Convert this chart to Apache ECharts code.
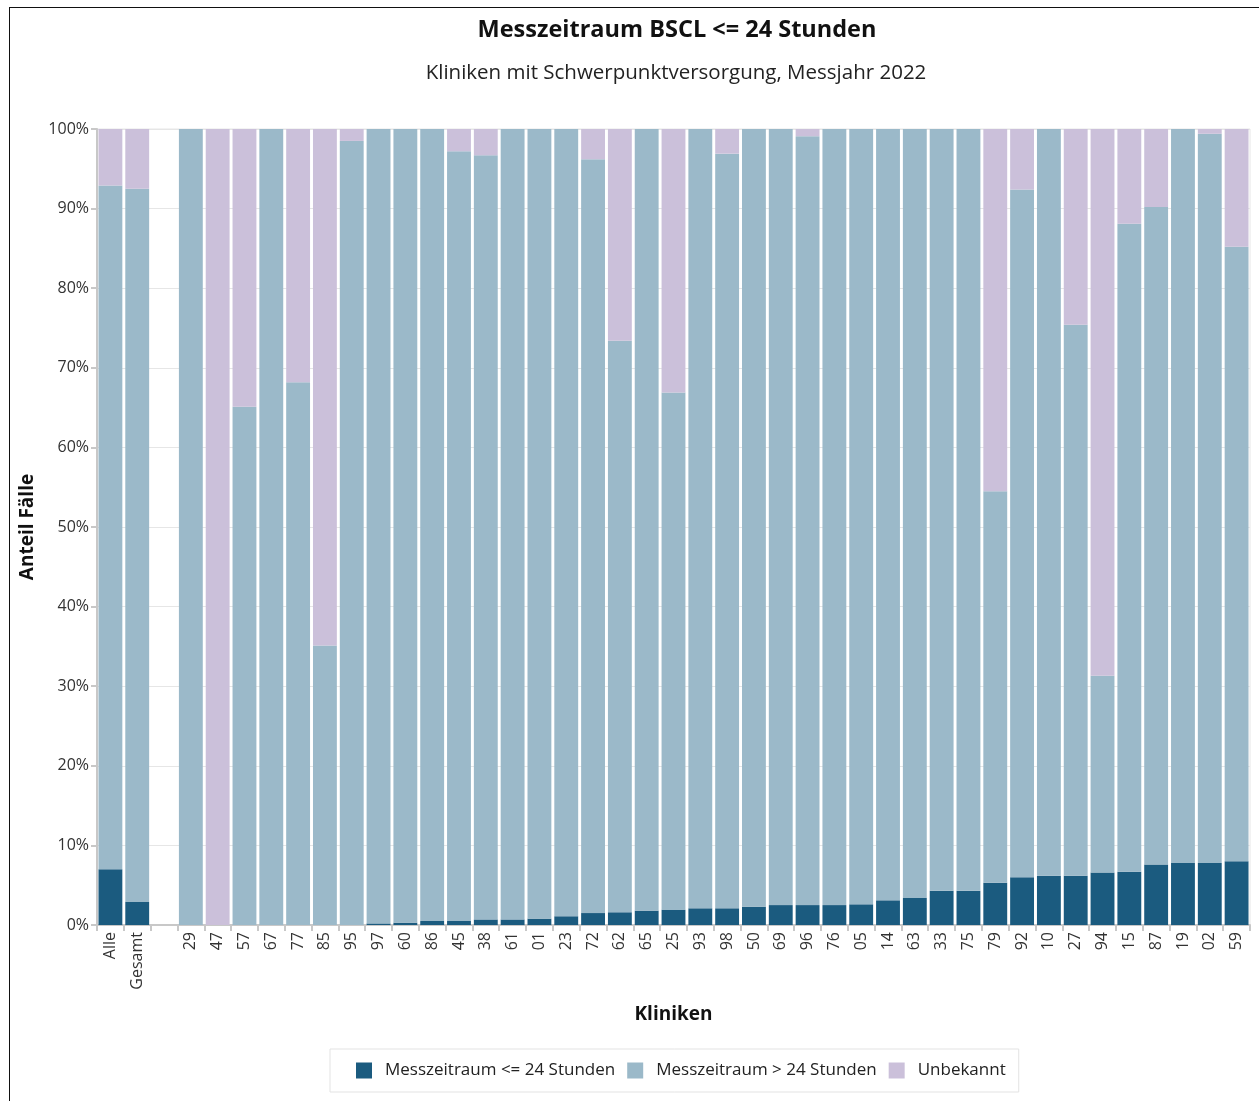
<!DOCTYPE html>
<html>
<head>
<meta charset="utf-8">
<title>Messzeitraum BSCL</title>
<script src="https://cdn.jsdelivr.net/npm/echarts@6/dist/echarts.min.js"></script>
<style>
    html, body { margin: 0; padding: 0; background: #fff; }
    #frame { position: absolute; left: 9px; top: 7px; width: 1260px; height: 1110px; border-left: 1.5px solid #111; border-top: 1.5px solid #111; }
    #chart { position: absolute; left: 0; top: 0; width: 1259px; height: 1101px; }
</style>
</head>
<body>
<div id="frame"></div>
<div id="chart"></div>
<script>
// Kliniken (leere Kategorie = Abstand nach "Gesamt")
var kliniken = ['Alle', 'Gesamt', '', '29', '47', '57', '67', '77', '85', '95', '97', '60', '86', '45', '38',
    '61', '01', '23', '72', '62', '65', '25', '93', '98', '50', '69', '96', '76', '05', '14', '63', '33',
    '75', '79', '92', '10', '27', '94', '15', '87', '19', '02', '59'];

// Anteile in %
var kurz = [7.0, 2.9, null, 0, 0, 0, 0, 0, 0, 0, 0.2, 0.3, 0.5, 0.5, 0.7,
    0.7, 0.8, 1.1, 1.5, 1.6, 1.8, 1.9, 2.1, 2.1, 2.3, 2.5, 2.5, 2.5, 2.6, 3.1, 3.4, 4.3,
    4.3, 5.3, 6.0, 6.2, 6.2, 6.6, 6.7, 7.6, 7.8, 7.8, 8.0];
var lang = [85.9, 89.6, null, 100, 0, 65.1, 100, 68.2, 35.1, 98.5, 99.8, 99.7, 99.5, 96.7, 96.0,
    99.3, 99.2, 98.9, 94.7, 71.8, 98.2, 65.0, 97.9, 94.8, 97.7, 97.5, 96.6, 97.5, 97.4, 96.9, 96.6, 95.7,
    95.7, 49.2, 86.4, 93.8, 69.2, 24.7, 81.4, 82.6, 92.2, 91.6, 77.2];
var unbekannt = [7.1, 7.5, null, 0, 100, 34.9, 0, 31.8, 64.9, 1.5, 0, 0, 0, 2.8, 3.3,
    0, 0, 0, 3.8, 26.6, 0, 33.1, 0, 3.1, 0, 0, 0.9, 0, 0, 0, 0, 0,
    0, 45.5, 7.6, 0, 24.6, 68.7, 11.9, 9.8, 0, 0.6, 14.8];

var yTicks = [0, 10, 20, 30, 40, 50, 60, 70, 80, 90, 100];

var font = '"Open Sans", "Noto Sans", sans-serif';
var myChart = echarts.init(document.getElementById('chart'));
var option = {
    animation: false,
    textStyle: { fontFamily: font },
    title: [{
        text: 'Messzeitraum BSCL <= 24 Stunden',
        left: 672,
        top: 13,
        textAlign: 'center',
        textStyle: { fontSize: 23.5, fontWeight: 'bold', color: '#111', fontFamily: font }
    }, {
        text: 'Kliniken mit Schwerpunktversorgung, Messjahr 2022',
        left: 671,
        top: 58,
        textAlign: 'center',
        textStyle: { fontSize: 20.5, fontWeight: 'normal', color: '#222', fontFamily: font }
    }],
    legend: {
        left: 330,
        top: 1049,
        padding: [13, 13, 13, 26],
        itemGap: 12,
        itemWidth: 16,
        itemHeight: 16,
        icon: 'rect',
        borderColor: '#e3e3e3',
        borderWidth: 1,
        textStyle: { fontSize: 17, color: '#222', padding: [0, 0, 0, 8], fontFamily: font },
        data: ['Messzeitraum <= 24 Stunden', 'Messzeitraum > 24 Stunden', 'Unbekannt']
    },
    grid: {
        left: 97,
        right: 9,
        top: 129,
        bottom: 176,
        show: true,
        borderColor: '#e6e6e6',
        borderWidth: 1
    },
    xAxis: {
        type: 'category',
        data: kliniken,
        name: 'Kliniken',
        nameLocation: 'middle',
        nameGap: 80,
        nameTextStyle: { fontSize: 19, fontWeight: 'bold', color: '#111' },
        axisLine: { lineStyle: { color: '#c8c8c8', width: 2 } },
        axisTick: { show: true, length: 6, lineStyle: { color: '#c8c8c8', width: 2 } },
        axisLabel: { rotate: 90, interval: 0, fontSize: 16, color: '#333', margin: 7 }
    },
    yAxis: {
        type: 'value',
        min: 0,
        max: 100,
        interval: 10,
        name: 'Anteil Fälle',
        nameLocation: 'middle',
        nameGap: 60,
        nameTextStyle: { fontSize: 19, fontWeight: 'bold', color: '#111' },
        axisLine: { show: true, lineStyle: { color: '#c8c8c8', width: 2 } },
        axisTick: { show: true, length: 6, lineStyle: { color: '#c8c8c8', width: 2 } },
        axisLabel: {
            fontSize: 16, color: '#333', margin: 8,
            formatter: function (v) { return yTicks.indexOf(v) >= 0 ? v + '%' : ''; }
        },
        splitLine: { lineStyle: { color: '#e6e6e6', width: 1 } }
    },
    series: [{
        name: 'Messzeitraum <= 24 Stunden',
        type: 'bar',
        stack: 'anteil',
        barCategoryGap: '11%',
        itemStyle: { color: '#1b5b7f' },
        data: kurz
    }, {
        name: 'Messzeitraum > 24 Stunden',
        type: 'bar',
        stack: 'anteil',
        itemStyle: { color: '#9bb9c9' },
        data: lang
    }, {
        name: 'Unbekannt',
        type: 'bar',
        stack: 'anteil',
        itemStyle: { color: '#cbc0da' },
        data: unbekannt
    }]
};
myChart.setOption(option);
</script>
</body>
</html>
